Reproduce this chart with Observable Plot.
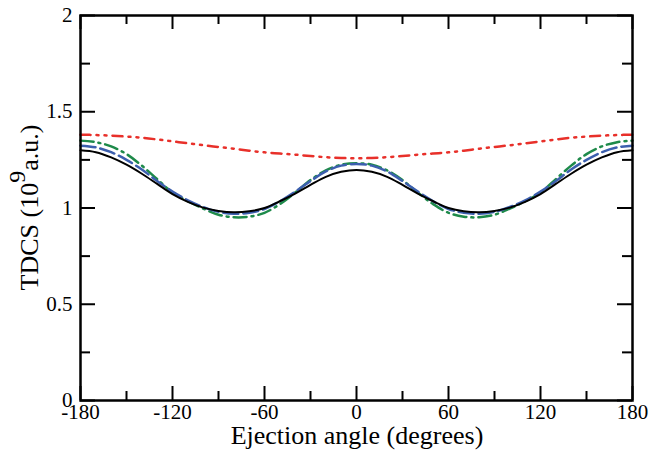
<!DOCTYPE html>
<html><head><meta charset="utf-8">
<script src="https://cdn.jsdelivr.net/npm/d3@7"></script>
<script src="https://cdn.jsdelivr.net/npm/@observablehq/plot@0.6"></script>
<style>body{margin:0;background:#fff}#chart{width:650px;height:455px;font-family:'Liberation Serif'}</style>
</head><body><div id="chart"></div>
<script>
const angles = [-180,-170,-160,-150,-140,-130,-120,-110,-100,-90,-80,-70,-60,-50,-40,-30,-20,-10,0,10,20,30,40,50,60,70,80,90,100,110,120,130,140,150,160,170,180];
const blackSolid = [1.30,1.29,1.263,1.225,1.178,1.125,1.072,1.032,1.002,0.985,0.978,0.983,1.0,1.035,1.075,1.12,1.162,1.188,1.198,1.188,1.162,1.12,1.075,1.035,1.0,0.983,0.978,0.985,1.002,1.032,1.072,1.125,1.178,1.225,1.263,1.29,1.30];
const blueDashed = [1.324,1.315,1.29,1.25,1.2,1.14,1.085,1.04,1.005,0.98,0.97,0.975,0.995,1.035,1.085,1.14,1.19,1.22,1.229,1.22,1.19,1.14,1.085,1.035,0.995,0.975,0.97,0.98,1.005,1.04,1.085,1.14,1.2,1.25,1.29,1.315,1.324];
const greenDashDot = [1.35,1.342,1.32,1.28,1.22,1.15,1.08,1.035,0.997,0.965,0.952,0.955,0.975,1.02,1.08,1.145,1.195,1.225,1.232,1.225,1.195,1.145,1.08,1.02,0.975,0.955,0.952,0.965,0.997,1.035,1.08,1.15,1.22,1.28,1.32,1.342,1.35];
const redDashDotDot = [1.381,1.379,1.376,1.371,1.365,1.356,1.346,1.336,1.326,1.317,1.308,1.298,1.289,1.283,1.277,1.27,1.264,1.26,1.258,1.26,1.264,1.27,1.277,1.283,1.289,1.298,1.308,1.317,1.326,1.336,1.346,1.356,1.365,1.371,1.376,1.379,1.381];

const xMajor = [-180,-120,-60,0,60,120,180];
const xMinor = [-150,-90,-30,30,90,150];
const yMajor = [0,0.5,1,1.5,2];
const yMinor = [0.25,0.75,1.25,1.75];
const xTitle = "Ejection angle (degrees)";
const yTitleA = "TDCS (10", yTitleSup = "9", yTitleB = "a.u.)";

const FONT = "Liberation Serif";
const W = 650, H = 455, mL = 80, mR = 18, mT = 15, mB = 55;
const pw = W - mL - mR, ph = H - mT - mB;
const rows = (ys) => angles.map((a, i) => ({a, v: ys[i]}));

const chart = Plot.plot({
  width: W, height: H,
  marginLeft: mL, marginRight: mR, marginTop: mT, marginBottom: mB,
  x: {domain: [-180, 180]},
  y: {domain: [0, 2]},
  style: {background: "white", overflow: "visible"},
  marks: [
    Plot.line(rows(redDashDotDot), {x: "a", y: "v", stroke: "#e8302a", strokeWidth: 2.5, strokeDasharray: "10,6,2,6,2,6", curve: "catmull-rom"}),
    Plot.line(rows(greenDashDot), {x: "a", y: "v", stroke: "#1e8a4a", strokeWidth: 2.5, strokeDasharray: "13,5,2,5", curve: "catmull-rom"}),
    Plot.line(rows(blueDashed), {x: "a", y: "v", stroke: "#3c5fae", strokeWidth: 2.5, strokeDasharray: "15,5", curve: "catmull-rom"}),
    Plot.line(rows(blackSolid), {x: "a", y: "v", stroke: "black", strokeWidth: 2, curve: "catmull-rom"}),
    Plot.ruleX(xMajor, {x: d => d, insetTop: ph - 14, strokeWidth: 2}),
    Plot.ruleX(xMajor, {x: d => d, insetBottom: ph - 14, strokeWidth: 2}),
    Plot.ruleX(xMinor, {x: d => d, insetTop: ph - 9, strokeWidth: 2}),
    Plot.ruleX(xMinor, {x: d => d, insetBottom: ph - 9, strokeWidth: 2}),
    Plot.ruleY(yMajor, {y: d => d, insetRight: pw - 15, strokeWidth: 2}),
    Plot.ruleY(yMajor, {y: d => d, insetLeft: pw - 15, strokeWidth: 2}),
    Plot.ruleY(yMinor, {y: d => d, insetRight: pw - 10, strokeWidth: 2}),
    Plot.ruleY(yMinor, {y: d => d, insetLeft: pw - 10, strokeWidth: 2}),
    Plot.frame({stroke: "black", strokeWidth: 2.5}),
    Plot.axisX(xMajor, {tickSize: 0, tickPadding: 4, fontSize: 21, label: null, tickFormat: d => String(d)}),
    Plot.axisY(yMajor, {tickSize: 0, tickPadding: 8, fontSize: 21, label: null, tickFormat: d => String(d)})
  ]
});

const svg = d3.select(chart);
svg.append("text")
  .attr("x", mL + pw / 2 + 1).attr("y", 444)
  .attr("text-anchor", "middle")
  .attr("font-size", 26).attr("fill", "black")
  .text(xTitle);
const yt = svg.append("text")
  .attr("transform", `translate(38,${mT + ph / 2}) rotate(-90)`)
  .attr("text-anchor", "middle")
  .attr("font-size", 26).attr("fill", "black");
yt.append("tspan").text(yTitleA);
yt.append("tspan").attr("dy", -13).attr("font-size", 24).text(yTitleSup);
yt.append("tspan").attr("dy", 13).text(yTitleB);

chart.setAttribute("font-family", FONT);
chart.style.setProperty("font-family", FONT, "important");
chart.querySelectorAll("g, text, tspan").forEach(el => {
  el.setAttribute("font-family", FONT);
  el.style.setProperty("font-family", FONT, "important");
});

document.getElementById("chart").appendChild(chart);
</script>
</body></html>
